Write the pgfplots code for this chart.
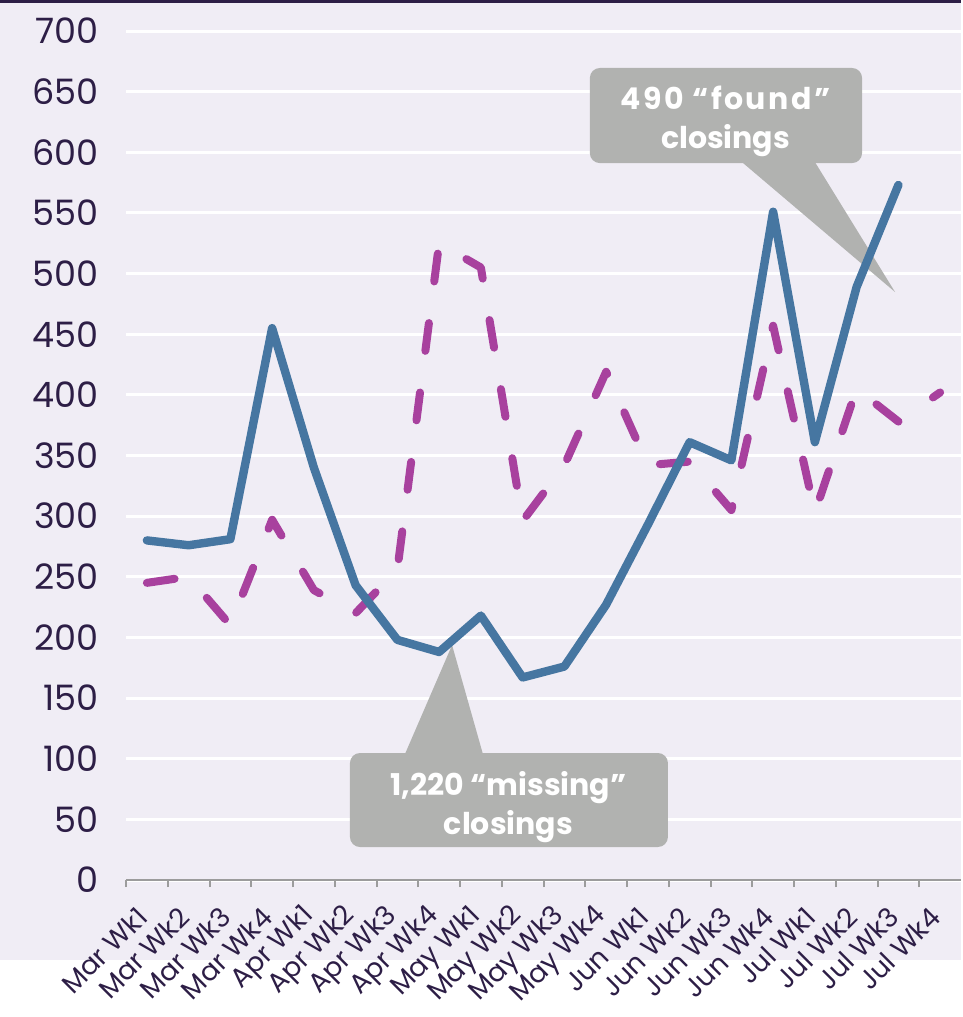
\documentclass[border=0pt]{standalone}
\usepackage{fontspec}
\setmainfont{Poppins}
\usepackage{pgfplots}
\pgfplotsset{compat=1.18}
\definecolor{bg}{HTML}{F0EDF5}
\definecolor{txt}{HTML}{2D1E46}
\definecolor{blu}{HTML}{4676A1}
\definecolor{mag}{HTML}{A8419E}
\definecolor{cg}{HTML}{B1B2B0}
\definecolor{axg}{HTML}{9C9C9C}
\begin{document}
\begin{tikzpicture}
\fill[white] (0,0) rectangle (480.5pt,508.5pt);
\fill[bg] (0,28.5pt) rectangle (480.5pt,508.5pt);
\fill[txt] (0,507pt) rectangle (480.5pt,508.5pt);
\begin{axis}[
  at={(63pt,68.5pt)}, anchor=origin,
  width=417.5pt, height=424.5pt, scale only axis,
  xmin=0, xmax=20, ymin=0, ymax=700,
  axis x line*=bottom, axis y line*=left,
  x axis line style={axg, line width=1pt},
  y axis line style={draw=none},
  xtick={0.5,1.5,...,19.5},
  minor xtick={0,1,...,19},
  xticklabels={Mar Wk1,Mar Wk2,Mar Wk3,Mar Wk4,Apr Wk1,Apr Wk2,Apr Wk3,Apr Wk4,May Wk1,May Wk2,May Wk3,May Wk4,Jun Wk1,Jun Wk2,Jun Wk3,Jun Wk4,Jul Wk1,Jul Wk2,Jul Wk3,Jul Wk4},
  tick align=outside,
  major tick length=0pt,
  minor tick length=3.5pt,
  major x tick style={draw=none},
  minor x tick style={axg, line width=1pt},
  ytick={0,50,...,700},
  ytick style={draw=none},
  ymajorgrids,
  grid style={white, line width=1.5pt},
  xticklabel style={xshift=-2pt, yshift=-16pt, rotate=45, anchor=east, inner sep=0pt, font=\fontsize{13.5}{16}\selectfont, text=txt},
  yticklabel style={anchor=east, inner sep=0pt, xshift=-13.5pt, font=\fontsize{17.5}{19}\selectfont, text=txt},
  /pgf/number format/assume math mode=true,
]
\fill[cg, rounded corners=5pt] (axis cs:11.11,591.1) rectangle (axis cs:17.63,669.5);
\fill[cg] (axis cs:14.75,592) -- (axis cs:16.50,592) -- (axis cs:18.42,484.8) -- cycle;
\node[text=white, align=center, font=\fontsize{15}{19.5}\selectfont\bfseries] at (axis cs:14.36,625.5) {{\addfontfeature{LetterSpace=8}490 “found”}\\closings};
\fill[cg, rounded corners=5pt] (axis cs:5.365,27.2) rectangle (axis cs:12.98,104.7);
\fill[cg] (axis cs:6.68,103.7) -- (axis cs:8.55,103.7) -- (axis cs:7.81,193.7) -- cycle;
\node[text=white, align=center, font=\fontsize{15}{19.5}\selectfont\bfseries] at (axis cs:9.16,60.5) {1,220 “missing”\\closings};
\addplot[mag, line width=4pt, line cap=round, line join=round, dash pattern=on 14pt off 21pt] coordinates {
(0.5,245) (1.5,250) (2.5,210) (3.5,297) (4.5,239) (5.5,220) (6.5,256) (7.5,525) (8.5,505) (9.5,296)
(10.5,342) (11.5,419) (12.5,342) (13.5,345) (14.5,305) (15.5,457) (16.5,303) (17.5,405) (18.5,378) (19.5,402)};
\addplot[blu, line width=4.2pt, line cap=round, line join=round] coordinates {
(0.5,280) (1.5,276) (2.5,281) (3.5,455) (4.5,340) (5.5,243) (6.5,198) (7.5,188) (8.5,218) (9.5,167)
(10.5,176) (11.5,227) (12.5,293) (13.5,361) (14.5,346) (15.5,551) (16.5,361) (17.5,489) (18.5,573)};
\end{axis}
\end{tikzpicture}
\end{document}
